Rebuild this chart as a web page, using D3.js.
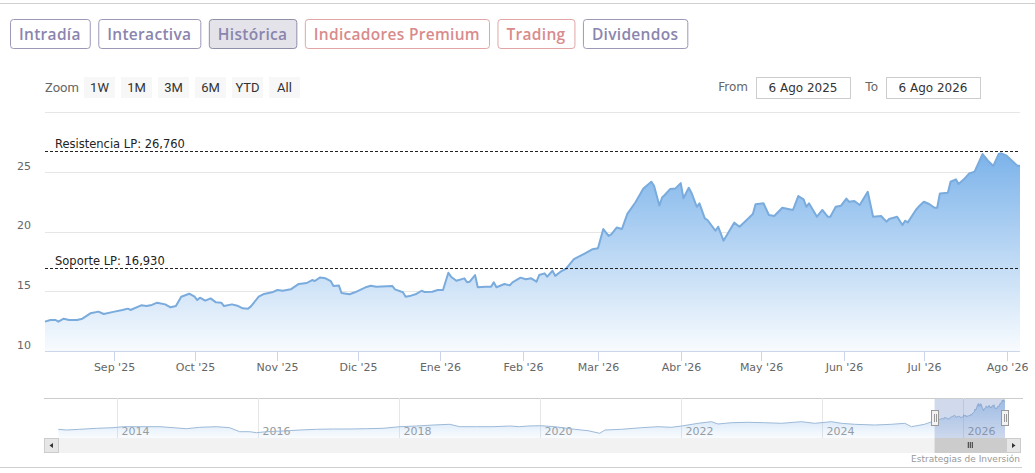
<!DOCTYPE html>
<html>
<head>
<meta charset="utf-8">
<script src="https://cdn.jsdelivr.net/npm/d3@7.9.0/dist/d3.min.js"></script>
<style>
  body { margin: 0; background: #fff; }
  svg { display: block; }
</style>
</head>
<body>
<svg id="chart" width="1035" height="473"></svg>
<script>
// daily closes (6 Ago 2025 - 6 Ago 2026)
const dates = ['2025-08-06','2025-08-08','2025-08-10','2025-08-11','2025-08-13','2025-08-15','2025-08-18','2025-08-20','2025-08-23','2025-08-26','2025-08-28',
  '2025-09-01','2025-09-04','2025-09-06','2025-09-07','2025-09-11','2025-09-13','2025-09-15','2025-09-17','2025-09-20','2025-09-22','2025-09-24','2025-09-26','2025-09-29',
  '2025-10-01','2025-10-02','2025-10-03','2025-10-05','2025-10-07','2025-10-09','2025-10-11','2025-10-12','2025-10-15','2025-10-17','2025-10-19','2025-10-21','2025-10-22','2025-10-25','2025-10-27','2025-10-30',
  '2025-11-01','2025-11-03','2025-11-06','2025-11-09','2025-11-12','2025-11-14','2025-11-15','2025-11-17','2025-11-19','2025-11-21','2025-11-22','2025-11-24','2025-11-25','2025-11-28','2025-11-30',
  '2025-12-04','2025-12-06','2025-12-08','2025-12-14','2025-12-15','2025-12-18','2025-12-19','2025-12-21','2025-12-23','2025-12-25','2025-12-26','2025-12-29','2025-12-31',
  '2026-01-02','2026-01-04','2026-01-05','2026-01-07','2026-01-10','2026-01-11','2026-01-12','2026-01-14','2026-01-15','2026-01-18','2026-01-20','2026-01-21','2026-01-22','2026-01-25','2026-01-27','2026-01-28','2026-01-31',
  '2026-02-02','2026-02-04','2026-02-06','2026-02-07','2026-02-09','2026-02-10','2026-02-12','2026-02-13','2026-02-15','2026-02-17','2026-02-20','2026-02-24','2026-02-27',
  '2026-03-01','2026-03-03','2026-03-05','2026-03-06','2026-03-08','2026-03-10','2026-03-12','2026-03-15','2026-03-18','2026-03-21','2026-03-22','2026-03-24','2026-03-25','2026-03-26','2026-03-28','2026-03-30',
  '2026-04-01','2026-04-02','2026-04-04','2026-04-05','2026-04-07','2026-04-08','2026-04-10','2026-04-11','2026-04-14','2026-04-15','2026-04-17','2026-04-19','2026-04-21','2026-04-23','2026-04-25','2026-04-28','2026-04-29',
  '2026-05-02','2026-05-04','2026-05-06','2026-05-09','2026-05-13','2026-05-15','2026-05-17','2026-05-18','2026-05-19','2026-05-22','2026-05-24','2026-05-26','2026-05-27','2026-05-29','2026-05-31',
  '2026-06-02','2026-06-03','2026-06-05','2026-06-07','2026-06-10','2026-06-12','2026-06-15','2026-06-17','2026-06-18','2026-06-21','2026-06-23','2026-06-24','2026-06-25','2026-06-28','2026-06-29',
  '2026-07-01','2026-07-03','2026-07-05','2026-07-06','2026-07-07','2026-07-10','2026-07-11','2026-07-13','2026-07-14','2026-07-16','2026-07-18','2026-07-20','2026-07-23','2026-07-25','2026-07-27','2026-07-29','2026-07-30',
  '2026-08-01','2026-08-03','2026-08-05','2026-08-06'];
const closes = [12.46,12.60,12.60,12.46,12.71,12.60,12.60,12.71,13.16,13.30,13.10,
  13.30,13.44,13.55,13.44,13.83,13.77,13.86,14.05,13.91,13.66,13.77,14.55,14.80,
  14.55,14.27,14.47,14.22,14.41,14.08,14.05,13.77,13.91,13.80,13.58,13.55,13.72,14.55,14.78,14.92,
  15.11,15.05,15.17,15.62,15.70,15.95,15.87,16.17,16.09,15.85,15.45,15.50,14.86,14.76,14.92,
  15.34,15.47,15.39,15.45,15.17,14.92,14.55,14.64,14.78,15.05,14.95,14.97,15.11,
  15.11,16.56,16.23,15.89,16.09,15.76,15.81,16.37,15.34,15.39,15.39,15.76,15.34,15.62,15.50,15.76,16.15,
  16.01,16.09,15.81,16.37,16.51,16.23,16.73,16.30,16.65,16.88,17.70,18.16,18.53,
  18.61,20.22,19.65,19.77,20.35,20.23,21.50,22.45,23.63,24.19,23.85,22.20,22.87,23.08,23.57,23.63,
  24.07,22.80,23.68,23.27,22.09,22.38,21.12,20.98,20.08,20.42,19.25,20.00,20.76,20.42,20.84,21.48,22.30,
  22.38,21.40,21.32,22.01,21.82,22.99,22.71,22.09,22.38,21.26,21.82,21.26,21.26,22.09,22.18,
  22.77,22.51,22.57,22.24,23.35,21.26,21.32,20.84,21.06,21.26,20.56,20.92,20.78,21.82,22.09,
  22.51,22.32,22.01,22.01,23.21,23.27,24.19,24.39,24.00,24.39,24.89,25.03,26.51,25.95,25.51,26.51,26.57,
  26.37,25.95,25.53,25.53];

// long history shown in the navigator (before the main range)
const navDates = ['2013-03-01','2013-04-13','2013-06-20','2013-09-16','2013-12-10','2014-02-01','2014-04-28','2014-08-10','2014-10-17','2014-12-25',
  '2015-03-04','2015-05-30','2015-08-06','2015-09-27','2015-11-18','2015-12-23','2016-02-13','2016-05-10','2016-08-04','2016-10-30',
  '2017-01-24','2017-04-20','2017-07-15','2017-10-09','2018-01-04','2018-04-01','2018-06-26','2018-09-20','2018-11-10','2019-02-05',
  '2019-05-02','2019-07-27','2019-09-17','2019-10-30','2020-01-03','2020-03-17','2020-06-28','2020-09-05','2020-11-05','2020-12-02',
  '2021-02-26','2021-06-09','2021-09-03','2021-11-10','2022-01-03','2022-03-30','2022-06-07','2022-07-11','2022-09-18','2022-12-13',
  '2023-03-10','2023-06-04','2023-09-16','2023-11-24','2024-02-18','2024-04-10','2024-06-18','2024-09-30','2024-12-25','2025-03-05',
  '2025-04-08','2025-06-15'];
const navCloses = [6.65,6.17,6.65,7.33,7.74,8.42,8.42,8.42,7.74,7.06,
  8.01,8.42,7.74,5.02,5.02,4.34,5.02,5.49,6.17,6.65,
  6.85,6.85,7.06,7.33,8.42,8.89,9.57,10.05,8.42,8.42,
  8.42,8.89,8.42,8.89,9.10,8.42,6.65,5.70,3.93,6.17,
  6.65,7.74,8.42,8.01,8.89,10.73,11.82,10.26,11.14,11.41,
  11.14,10.73,11.82,10.73,11.82,10.73,10.05,9.57,10.05,10.73,
  8.42,10.05];

const resistance = 26.76;
const support = 16.93;
const yTicks = [10, 15, 20, 25, 30];
const monthNames = ['Ene','Feb','Mar','Abr','May','Jun','Jul','Ago','Sep','Oct','Nov','Dic'];
const tabs = ['Intradía', 'Interactiva', 'Histórica', 'Indicadores Premium', 'Trading', 'Dividendos'];
const zoomButtons = ['1W', '1M', '3M', '6M', 'YTD', 'All'];
const rangeFrom = '6 Ago 2025';
const rangeTo = '6 Ago 2026';
const credits = 'Estrategias de Inversión';

const parse = d3.timeParse('%Y-%m-%d');
const esLocale = d3.formatLocale({ decimal: ',', thousands: '.', grouping: [3], currency: ['', ' €'] });
const fmtLevel = esLocale.format('.3f');

let data = dates.map((d, i) => ({ date: parse(d), value: closes[i] }));
let navData = navDates.map((d, i) => ({ date: parse(d), value: navCloses[i] })).concat(data);

const svg = d3.select('#chart');
const W = 1035;
const axisFont = '"DejaVu Sans", Verdana, sans-serif';
const uiFont = '"Open Sans", "Noto Sans", sans-serif';
const narrowFont = '"Liberation Sans Narrow", "Roboto", sans-serif';

// frame lines
svg.append('line').attr('x1', 0).attr('x2', W).attr('y1', 3.5).attr('y2', 3.5).attr('stroke', '#d0d0d0');
svg.append('line').attr('x1', 0).attr('x2', 1022).attr('y1', 467.5).attr('y2', 467.5).attr('stroke', '#cfcfcf');

// ---- tabs ----
const purple = '#8a85ae', red = '#d98b8b';
let tabX = 10;
tabs.forEach((t, i) => {
  let col = (i === 3 || i === 4) ? red : purple;
  let g = svg.append('g');
  let rect = g.append('rect').attr('y', 19.5).attr('height', 29).attr('rx', 3)
    .attr('fill', i === 2 ? '#e3e3e9' : '#fff')
    .attr('stroke', i === 2 ? '#8f8fa8' : (col === red ? '#e2a4a4' : '#9c98b8'));
  let txt = g.append('text').text(t).attr('y', 40).attr('font-family', uiFont)
    .attr('font-size', 15.5).attr('font-weight', 600).attr('letter-spacing', 0.3).attr('fill', col);
  let w = txt.node().getComputedTextLength();
  rect.attr('x', tabX + 0.5).attr('width', w + 18);
  txt.attr('x', tabX + 9);
  tabX += w + 18 + 8.5;
});

// ---- range selector ----
svg.append('text').text('Zoom').attr('x', 45).attr('y', 92)
  .attr('font-family', narrowFont).attr('font-size', 13).attr('fill', '#666');
zoomButtons.forEach((b, i) => {
  let bx = 84 + i * 37;
  svg.append('rect').attr('x', bx).attr('y', 77).attr('width', 31).attr('height', 21).attr('fill', '#f7f7f7');
  svg.append('text').text(b).attr('x', bx + 15.5).attr('y', 92).attr('text-anchor', 'middle')
    .attr('font-family', narrowFont).attr('font-size', 13).attr('fill', '#333');
});

[['From', rangeFrom, 756], ['To', rangeTo, 886]].forEach(([lab, val, bx]) => {
  svg.append('text').text(lab).attr('x', bx - 8).attr('y', 91).attr('text-anchor', 'end')
    .attr('font-family', axisFont).attr('font-size', 12).attr('fill', '#666');
  svg.append('rect').attr('x', bx + 0.5).attr('y', 77.5).attr('width', 94).attr('height', 21)
    .attr('fill', '#fff').attr('stroke', '#cccccc');
  svg.append('text').text(val).attr('x', bx + 47).attr('y', 92).attr('text-anchor', 'middle')
    .attr('font-family', axisFont).attr('font-size', 12).attr('fill', '#333');
});

// ---- main plot ----
const plot = { left: 45, right: 1020, top: 112.4, bottom: 351 };
const x = d3.scaleTime().domain([parse('2025-08-06'), parse('2026-08-06')]).range([plot.left, plot.right]);
const y = d3.scaleLinear().domain([10, 30]).range([plot.bottom, plot.top]);

let grad = svg.append('defs').append('linearGradient').attr('id', 'areaGrad')
  .attr('x1', 0).attr('y1', 0).attr('x2', 0).attr('y2', 1);
grad.append('stop').attr('offset', '0%').attr('stop-color', '#7cb3ea');
grad.append('stop').attr('offset', '100%').attr('stop-color', '#f8fbfe');

svg.append('g').selectAll('line').data(yTicks).join('line')
  .attr('x1', plot.left).attr('x2', plot.right)
  .attr('y1', d => Math.round(y(d)) + 0.5).attr('y2', d => Math.round(y(d)) + 0.5)
  .attr('stroke', '#e6e6e6');

// labels sit just above their grid line, last one hidden
svg.append('g').selectAll('text').data(yTicks.slice(0, -1)).join('text')
  .text(d => d).attr('x', 31).attr('y', d => y(d) - 2.5).attr('text-anchor', 'end')
  .attr('font-family', axisFont).attr('font-size', 11).attr('fill', '#666');

let area = d3.area().x(d => x(d.date)).y0(plot.bottom).y1(d => y(d.value));
let line = d3.line().x(d => x(d.date)).y(d => y(d.value));
svg.append('path').datum(data).attr('d', area).attr('fill', 'url(#areaGrad)');
svg.append('path').datum(data).attr('d', line).attr('fill', 'none')
  .attr('stroke', '#7aabdd').attr('stroke-width', 2).attr('stroke-linejoin', 'round');

// x axis
let months = d3.timeMonth.range(parse('2025-08-07'), parse('2026-08-06'));
svg.append('line').attr('x1', plot.left).attr('x2', plot.right)
  .attr('y1', plot.bottom + 0.5).attr('y2', plot.bottom + 0.5).attr('stroke', '#ccd6eb');
let xt = svg.append('g').selectAll('g').data(months).join('g')
  .attr('transform', d => `translate(${Math.round(x(d)) + 0.5},0)`);
xt.append('line').attr('y1', plot.bottom).attr('y2', plot.bottom + 10).attr('stroke', '#ccd6eb');
xt.append('text').text(d => `${monthNames[d.getMonth()]} '${d3.timeFormat('%y')(d)}`)
  .attr('y', plot.bottom + 20).attr('text-anchor', 'middle')
  .attr('font-family', axisFont).attr('font-size', 11).attr('fill', '#666');

// support / resistance
[['Resistencia LP: ', resistance], ['Soporte LP: ', support]].forEach(([lab, v]) => {
  svg.append('line').attr('x1', plot.left).attr('x2', plot.right)
    .attr('y1', Math.round(y(v)) + 0.5).attr('y2', Math.round(y(v)) + 0.5)
    .attr('stroke', '#222').attr('stroke-dasharray', '3,2');
  svg.append('text').text(lab + fmtLevel(v)).attr('x', 55).attr('y', y(v) - 3)
    .attr('font-family', axisFont).attr('font-size', 11.5).attr('fill', '#222');
});

// ---- navigator ----
const nav = { left: 44, right: 1020, top: 398, bottom: 438 };
const nx = d3.scaleTime().domain([parse('2013-03-01'), parse('2026-08-06')]).range([58.3, 1005]);
const ny = d3.scaleLinear().domain(d3.extent(navData, d => d.value)).range([433.3, 400]);

svg.append('line').attr('x1', nav.left).attr('x2', 1023).attr('y1', nav.top + 0.5).attr('y2', nav.top + 0.5).attr('stroke', '#cccccc');
let years = d3.timeYear.every(2).range(parse('2014-01-01'), parse('2026-12-31'));
let yg = svg.append('g').selectAll('g').data(years).join('g')
  .attr('transform', d => `translate(${Math.round(nx(d)) + 0.5},0)`);
yg.append('line').attr('y1', nav.top).attr('y2', nav.bottom).attr('stroke', '#e6e6e6');

let navGrad = svg.select('defs').append('linearGradient').attr('id', 'navGrad')
  .attr('x1', 0).attr('y1', 0).attr('x2', 0).attr('y2', 1);
navGrad.append('stop').attr('offset', '0%').attr('stop-color', '#7cb3ea').attr('stop-opacity', 0.55);
navGrad.append('stop').attr('offset', '100%').attr('stop-color', '#7cb3ea').attr('stop-opacity', 0.04);

svg.append('path').datum(navData)
  .attr('d', d3.area().x(d => nx(d.date)).y0(nav.bottom).y1(d => ny(d.value)))
  .attr('fill', 'url(#navGrad)');
svg.append('path').datum(navData)
  .attr('d', d3.line().x(d => nx(d.date)).y(d => ny(d.value)))
  .attr('fill', 'none').attr('stroke', '#9dbad8').attr('stroke-width', 1);

yg.append('text').text(d => d.getFullYear()).attr('x', 4).attr('y', 435)
  .attr('font-family', axisFont).attr('font-size', 11).attr('fill', '#999');

// selected window
let selX0 = nx(parse('2025-08-06')), selX1 = nx(parse('2026-08-06'));
svg.append('rect').attr('x', selX0).attr('y', nav.top + 1).attr('width', selX1 - selX0).attr('height', nav.bottom - nav.top - 1)
  .attr('fill', 'rgba(102,133,194,0.3)');

// scrollbar
svg.append('rect').attr('x', nav.left).attr('y', nav.bottom).attr('width', nav.right - nav.left).attr('height', 15).attr('fill', '#f2f2f2');
svg.append('rect').attr('x', selX0).attr('y', nav.bottom).attr('width', selX1 - selX0 + 1).attr('height', 15).attr('fill', '#cccccc');
[-2, 0, 2].forEach(o => {
  svg.append('line').attr('x1', (selX0 + selX1) / 2 + o + 0.5).attr('x2', (selX0 + selX1) / 2 + o + 0.5)
    .attr('y1', nav.bottom + 4).attr('y2', nav.bottom + 10).attr('stroke', '#333');
});
[[nav.left, -1], [nav.right - 14, 1]].forEach(([bx, dir]) => {
  svg.append('rect').attr('x', bx + 0.5).attr('y', nav.bottom + 0.5).attr('width', 14).attr('height', 14)
    .attr('fill', '#e6e6e6').attr('stroke', '#cccccc');
  let cx = bx + 7.5, cy = nav.bottom + 7.5;
  svg.append('path').attr('d', `M${cx + 2 * dir},${cy} L${cx - 1.5 * dir},${cy - 2.5} L${cx - 1.5 * dir},${cy + 2.5} Z`).attr('fill', '#333');
});

// handles
[selX0, selX1].forEach(hx => {
  svg.append('rect').attr('x', Math.round(hx) - 3.5).attr('y', 410.5).attr('width', 7).attr('height', 15)
    .attr('fill', '#f2f2f2').attr('stroke', '#999');
  [-1, 1].forEach(o => {
    svg.append('line').attr('x1', Math.round(hx) + o + 0.5).attr('x2', Math.round(hx) + o + 0.5)
      .attr('y1', 414).attr('y2', 422).attr('stroke', '#999');
  });
});

svg.append('text').text(credits).attr('x', 1020).attr('y', 462).attr('text-anchor', 'end')
  .attr('font-family', axisFont).attr('font-size', 9).attr('fill', '#999');
</script>
</body>
</html>
